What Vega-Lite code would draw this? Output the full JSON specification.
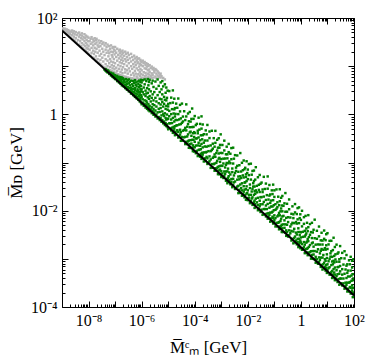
{
"$schema":"https://vega.github.io/schema/vega-lite/v6.json",
"width":292,"height":289,
"autosize":{"type":"none"},
"padding":{"left":62,"top":18,"right":20,"bottom":54},
"background":"white",
"config":{"view":{"stroke":"black","strokeWidth":1},"axis":{"grid":false,"domain":false,"labelFont":"Liberation Serif","labelFontSize":16,"labelColor":"black","titleFont":"Liberation Serif","titleFontSize":17,"titleFontWeight":"normal","titleColor":"black","tickColor":"black","tickWidth":1,"labelOverlap":false,"labelFlush":false,"labelBound":false}},
"datasets":{
"gray":[
{"x":1.1e-9,"y":54},{"x":1.1e-9,"y":61},{"x":1.2e-9,"y":57},{"x":1.3e-9,"y":50},{"x":1.3e-9,"y":60},{"x":1.4e-9,"y":53},{"x":1.5e-9,"y":47},{"x":1.5e-9,"y":58},{"x":1.6e-9,"y":51},{"x":1.7e-9,"y":45},{"x":1.7e-9,"y":56},{"x":1.8e-9,"y":49},{"x":1.9e-9,"y":42},{"x":1.9e-9,"y":54},{"x":2e-9,"y":47},{"x":2.2e-9,"y":39},{"x":2.2e-9,"y":52},{"x":2.4e-9,"y":44},{"x":2.4e-9,"y":55},{"x":2.6e-9,"y":36},{"x":2.6e-9,"y":49},{"x":2.8e-9,"y":41},{"x":2.8e-9,"y":53},{"x":3e-9,"y":34},{"x":3e-9,"y":46},{"x":3.3e-9,"y":38},{"x":3.3e-9,"y":51},{"x":3.6e-9,"y":31},{"x":3.6e-9,"y":44},{"x":4e-9,"y":35},{"x":4e-9,"y":48},{"x":4.4e-9,"y":28},{"x":4.4e-9,"y":41},{"x":4.4e-9,"y":50},{"x":4.8e-9,"y":33},{"x":4.8e-9,"y":45},{"x":5.2e-9,"y":26},{"x":5.2e-9,"y":38},{"x":5.6e-9,"y":30},{"x":5.6e-9,"y":43},{"x":5.6e-9,"y":48},{"x":6e-9,"y":24},{"x":6e-9,"y":36},{"x":6.5e-9,"y":28},{"x":6.5e-9,"y":40},{"x":7e-9,"y":22},{"x":7e-9,"y":33},{"x":7e-9,"y":46},{"x":7.5e-9,"y":26},{"x":7.5e-9,"y":38},{"x":8e-9,"y":21},{"x":8e-9,"y":30},{"x":8e-9,"y":43},{"x":8.5e-9,"y":24},{"x":8.5e-9,"y":35},{"x":9e-9,"y":19.5},{"x":9e-9,"y":28},{"x":9e-9,"y":41},{"x":9.5e-9,"y":23},{"x":9.5e-9,"y":33},
{"x":1e-8,"y":18},{"x":1e-8,"y":26},{"x":1e-8,"y":39},{"x":1.1e-8,"y":22},{"x":1.1e-8,"y":33},{"x":1.2e-8,"y":16.5},{"x":1.2e-8,"y":29},{"x":1.2e-8,"y":37},{"x":1.3e-8,"y":19},{"x":1.3e-8,"y":24},{"x":1.3e-8,"y":40},{"x":1.4e-8,"y":15.2},{"x":1.4e-8,"y":31},{"x":1.5e-8,"y":21},{"x":1.5e-8,"y":27},{"x":1.5e-8,"y":36},{"x":1.6e-8,"y":14.5},{"x":1.6e-8,"y":18},{"x":1.6e-8,"y":33},{"x":1.7e-8,"y":24},{"x":1.7e-8,"y":38},{"x":1.8e-8,"y":13.6},{"x":1.8e-8,"y":20},{"x":1.8e-8,"y":29},{"x":1.9e-8,"y":16},{"x":1.9e-8,"y":35},{"x":2e-8,"y":12.8},{"x":2e-8,"y":23},{"x":2e-8,"y":31},{"x":2e-8,"y":37},{"x":2.2e-8,"y":14},{"x":2.2e-8,"y":19},{"x":2.2e-8,"y":27},{"x":2.4e-8,"y":11.9},{"x":2.4e-8,"y":25},{"x":2.4e-8,"y":34},{"x":2.6e-8,"y":16.5},{"x":2.6e-8,"y":21},{"x":2.6e-8,"y":30},{"x":2.8e-8,"y":11.2},{"x":2.8e-8,"y":13.5},{"x":2.8e-8,"y":26},{"x":3e-8,"y":18},{"x":3e-8,"y":33},{"x":3.3e-8,"y":10.2},{"x":3.3e-8,"y":15},{"x":3.3e-8,"y":23},{"x":3.3e-8,"y":29},{"x":3.6e-8,"y":12.5},{"x":3.6e-8,"y":20},{"x":3.6e-8,"y":31},{"x":4e-8,"y":9.4},{"x":4e-8,"y":17},{"x":4e-8,"y":27},{"x":4.4e-8,"y":11},{"x":4.4e-8,"y":14},{"x":4.4e-8,"y":22},{"x":4.4e-8,"y":30},{"x":4.8e-8,"y":8.8},{"x":4.8e-8,"y":19},{"x":4.8e-8,"y":25},{"x":5.2e-8,"y":10},{"x":5.2e-8,"y":13},{"x":5.2e-8,"y":28},{"x":5.6e-8,"y":8.5},{"x":5.6e-8,"y":16},{"x":5.6e-8,"y":21},{"x":6e-8,"y":11.5},{"x":6e-8,"y":18.5},{"x":6e-8,"y":26},{"x":6.5e-8,"y":8.2},{"x":6.5e-8,"y":9.6},{"x":6.5e-8,"y":14},{"x":6.5e-8,"y":23},{"x":7e-8,"y":12.5},{"x":7e-8,"y":20},{"x":7e-8,"y":27},{"x":7.5e-8,"y":7.8},{"x":7.5e-8,"y":10.5},{"x":7.5e-8,"y":17},{"x":8e-8,"y":9},{"x":8e-8,"y":15.5},{"x":8e-8,"y":24},{"x":8.5e-8,"y":7.6},{"x":8.5e-8,"y":12},{"x":8.5e-8,"y":19.5},{"x":8.5e-8,"y":25},{"x":9e-8,"y":10},{"x":9e-8,"y":14},{"x":9e-8,"y":22},{"x":9.5e-8,"y":7.4},{"x":9.5e-8,"y":8.6},{"x":9.5e-8,"y":17.5},
{"x":1e-7,"y":11.5},{"x":1e-7,"y":21},{"x":1e-7,"y":25},{"x":1.1e-7,"y":7.1},{"x":1.1e-7,"y":9.3},{"x":1.1e-7,"y":15.5},{"x":1.1e-7,"y":19},{"x":1.2e-7,"y":8},{"x":1.2e-7,"y":13},{"x":1.2e-7,"y":23},{"x":1.3e-7,"y":6.8},{"x":1.3e-7,"y":10.5},{"x":1.3e-7,"y":17},{"x":1.4e-7,"y":8.8},{"x":1.4e-7,"y":14.5},{"x":1.4e-7,"y":21},{"x":1.5e-7,"y":6.6},{"x":1.5e-7,"y":12},{"x":1.5e-7,"y":18.5},{"x":1.5e-7,"y":22},{"x":1.6e-7,"y":7.6},{"x":1.6e-7,"y":10},{"x":1.6e-7,"y":16},{"x":1.7e-7,"y":6.4},{"x":1.7e-7,"y":13.5},{"x":1.7e-7,"y":20},{"x":1.8e-7,"y":8.5},{"x":1.8e-7,"y":11.5},{"x":1.8e-7,"y":17.5},{"x":1.9e-7,"y":6.3},{"x":1.9e-7,"y":7.2},{"x":1.9e-7,"y":15},{"x":1.9e-7,"y":21},{"x":2e-7,"y":9.5},{"x":2e-7,"y":13},{"x":2e-7,"y":19},{"x":2.2e-7,"y":6.1},{"x":2.2e-7,"y":11},{"x":2.2e-7,"y":16.5},{"x":2.4e-7,"y":7.4},{"x":2.4e-7,"y":8.6},{"x":2.4e-7,"y":14},{"x":2.4e-7,"y":20},{"x":2.6e-7,"y":6},{"x":2.6e-7,"y":12.5},{"x":2.6e-7,"y":18},{"x":2.8e-7,"y":8.2},{"x":2.8e-7,"y":10.2},{"x":2.8e-7,"y":15.5},{"x":3e-7,"y":5.8},{"x":3e-7,"y":7},{"x":3e-7,"y":13.5},{"x":3e-7,"y":19},{"x":3.3e-7,"y":9},{"x":3.3e-7,"y":11.5},{"x":3.3e-7,"y":17},{"x":3.6e-7,"y":5.7},{"x":3.6e-7,"y":7.8},{"x":3.6e-7,"y":14.5},{"x":4e-7,"y":6.6},{"x":4e-7,"y":10},{"x":4e-7,"y":12.5},{"x":4e-7,"y":18},{"x":4.4e-7,"y":5.6},{"x":4.4e-7,"y":8.8},{"x":4.4e-7,"y":15.5},{"x":4.8e-7,"y":7.2},{"x":4.8e-7,"y":11},{"x":4.8e-7,"y":13.5},{"x":5.2e-7,"y":5.5},{"x":5.2e-7,"y":6.4},{"x":5.2e-7,"y":9.6},{"x":5.2e-7,"y":16.5},{"x":5.6e-7,"y":8},{"x":5.6e-7,"y":12},{"x":5.6e-7,"y":14.5},{"x":6e-7,"y":5.4},{"x":6e-7,"y":7},{"x":6e-7,"y":10.5},{"x":6.5e-7,"y":6.1},{"x":6.5e-7,"y":9},{"x":6.5e-7,"y":13},{"x":6.5e-7,"y":15.5},{"x":7e-7,"y":5.6},{"x":7e-7,"y":11.5},{"x":7e-7,"y":14},{"x":7.5e-7,"y":6.8},{"x":7.5e-7,"y":8.3},{"x":7.5e-7,"y":12},{"x":8e-7,"y":5.3},{"x":8e-7,"y":9.8},{"x":8e-7,"y":14.5},{"x":8.5e-7,"y":6.3},{"x":8.5e-7,"y":7.5},{"x":8.5e-7,"y":11},{"x":9e-7,"y":5.5},{"x":9e-7,"y":8.7},{"x":9e-7,"y":13.5},{"x":9.5e-7,"y":6.9},{"x":9.5e-7,"y":10.5},{"x":9.5e-7,"y":12.5},
{"x":1e-6,"y":5.8},{"x":1e-6,"y":8.2},{"x":1e-6,"y":12},{"x":1.1e-6,"y":6.6},{"x":1.1e-6,"y":10},{"x":1.1e-6,"y":13},{"x":1.2e-6,"y":5.6},{"x":1.2e-6,"y":7.5},{"x":1.2e-6,"y":11.5},{"x":1.3e-6,"y":6.2},{"x":1.3e-6,"y":9},{"x":1.3e-6,"y":12.2},{"x":1.4e-6,"y":5.7},{"x":1.4e-6,"y":7.2},{"x":1.4e-6,"y":10.5},{"x":1.5e-6,"y":6.4},{"x":1.5e-6,"y":8.8},{"x":1.5e-6,"y":11.5},{"x":1.6e-6,"y":5.5},{"x":1.6e-6,"y":9.8},{"x":1.7e-6,"y":7},{"x":1.7e-6,"y":8.2},{"x":1.7e-6,"y":11},{"x":1.8e-6,"y":5.9},{"x":1.8e-6,"y":10.2},{"x":1.9e-6,"y":6.7},{"x":1.9e-6,"y":8.5},{"x":2e-6,"y":5.6},{"x":2e-6,"y":7.6},{"x":2e-6,"y":10.5},{"x":2.2e-6,"y":6.3},{"x":2.2e-6,"y":9.2},{"x":2.4e-6,"y":5.7},{"x":2.4e-6,"y":7.1},{"x":2.4e-6,"y":9.8},{"x":2.6e-6,"y":6.6},{"x":2.6e-6,"y":8.6},{"x":2.8e-6,"y":5.8},{"x":2.8e-6,"y":9.2},{"x":3e-6,"y":7.4},{"x":3e-6,"y":8.1},{"x":3.3e-6,"y":6.1},{"x":3.3e-6,"y":8.7},{"x":3.6e-6,"y":5.6},{"x":3.6e-6,"y":7},{"x":3.6e-6,"y":8.3},{"x":4e-6,"y":6.4},{"x":4e-6,"y":7.8},{"x":4.4e-6,"y":5.9},{"x":4.4e-6,"y":7.3},{"x":4.8e-6,"y":6.5},{"x":5.2e-6,"y":5.8},{"x":5.2e-6,"y":7},{"x":5.6e-6,"y":6.2},{"x":6.5e-6,"y":5.7},{"x":7.5e-6,"y":5.3}
],
"green":[
{"x":4e-8,"y":8.5},{"x":4.4e-8,"y":8},{"x":4.4e-8,"y":8.7},{"x":4.8e-8,"y":7.7},{"x":5.2e-8,"y":7.4},{"x":5.2e-8,"y":8.2},{"x":5.6e-8,"y":7.9},{"x":6e-8,"y":6.9},{"x":6e-8,"y":7.5},{"x":6.5e-8,"y":7.1},{"x":7e-8,"y":6.4},{"x":7e-8,"y":7.3},{"x":7.5e-8,"y":6.7},{"x":8e-8,"y":6},{"x":8e-8,"y":6.9},{"x":8.5e-8,"y":6.3},{"x":8.5e-8,"y":7},{"x":9e-8,"y":5.7},{"x":9e-8,"y":6.6},{"x":9.5e-8,"y":5.9},{"x":9.5e-8,"y":6.3},
{"x":1e-7,"y":5.4},{"x":1e-7,"y":6.5},{"x":1.1e-7,"y":5.6},{"x":1.1e-7,"y":6.1},{"x":1.2e-7,"y":4.9},{"x":1.2e-7,"y":5.5},{"x":1.2e-7,"y":6.3},{"x":1.3e-7,"y":5.2},{"x":1.3e-7,"y":5.8},{"x":1.4e-7,"y":4.6},{"x":1.4e-7,"y":5},{"x":1.4e-7,"y":6},{"x":1.5e-7,"y":4.7},{"x":1.5e-7,"y":5.5},{"x":1.6e-7,"y":4.3},{"x":1.6e-7,"y":5.1},{"x":1.6e-7,"y":5.9},{"x":1.7e-7,"y":4.5},{"x":1.7e-7,"y":4.9},{"x":1.8e-7,"y":4},{"x":1.8e-7,"y":5.3},{"x":1.8e-7,"y":5.8},{"x":1.9e-7,"y":4.2},{"x":1.9e-7,"y":4.6},{"x":2e-7,"y":3.85},{"x":2e-7,"y":4.4},{"x":2e-7,"y":5.6},{"x":2.2e-7,"y":3.8},{"x":2.2e-7,"y":4.9},{"x":2.2e-7,"y":5.3},{"x":2.4e-7,"y":3.5},{"x":2.4e-7,"y":4.1},{"x":2.4e-7,"y":4.6},{"x":2.6e-7,"y":3.6},{"x":2.6e-7,"y":3.9},{"x":2.6e-7,"y":5.4},{"x":2.8e-7,"y":3.25},{"x":2.8e-7,"y":4.3},{"x":2.8e-7,"y":4.8},{"x":3e-7,"y":3.4},{"x":3e-7,"y":3.7},{"x":3e-7,"y":5.1},{"x":3.3e-7,"y":3},{"x":3.3e-7,"y":3.5},{"x":3.3e-7,"y":4.4},{"x":3.3e-7,"y":5.3},{"x":3.6e-7,"y":3.1},{"x":3.6e-7,"y":4},{"x":3.6e-7,"y":4.7},{"x":4e-7,"y":2.7},{"x":4e-7,"y":3.3},{"x":4e-7,"y":3.6},{"x":4e-7,"y":5},{"x":4.4e-7,"y":2.8},{"x":4.4e-7,"y":3},{"x":4.4e-7,"y":4.2},{"x":4.8e-7,"y":2.5},{"x":4.8e-7,"y":3.4},{"x":4.8e-7,"y":3.9},{"x":4.8e-7,"y":4.9},{"x":5.2e-7,"y":2.6},{"x":5.2e-7,"y":2.9},{"x":5.2e-7,"y":4.5},{"x":5.6e-7,"y":2.3},{"x":5.6e-7,"y":3.2},{"x":5.6e-7,"y":3.5},{"x":5.6e-7,"y":5.1},{"x":6e-7,"y":2.4},{"x":6e-7,"y":2.7},{"x":6e-7,"y":4.1},{"x":6e-7,"y":4.6},{"x":6.5e-7,"y":2.15},{"x":6.5e-7,"y":3},{"x":6.5e-7,"y":3.8},{"x":7e-7,"y":2.3},{"x":7e-7,"y":2.6},{"x":7e-7,"y":3.3},{"x":7e-7,"y":4.8},{"x":7.5e-7,"y":2},{"x":7.5e-7,"y":2.9},{"x":7.5e-7,"y":3.1},{"x":7.5e-7,"y":4.3},{"x":8e-7,"y":2.1},{"x":8e-7,"y":2.4},{"x":8e-7,"y":3.7},{"x":8e-7,"y":5},{"x":8.5e-7,"y":1.85},{"x":8.5e-7,"y":2.6},{"x":8.5e-7,"y":2.9},{"x":8.5e-7,"y":4},{"x":9e-7,"y":2},{"x":9e-7,"y":2.2},{"x":9e-7,"y":3.4},{"x":9e-7,"y":4.7},{"x":9.5e-7,"y":1.75},{"x":9.5e-7,"y":2.5},{"x":9.5e-7,"y":3},{"x":9.5e-7,"y":3.9},{"x":9.5e-7,"y":5.2},
{"x":1e-6,"y":1.62},{"x":1e-6,"y":2.3},{"x":1e-6,"y":3.3},{"x":1e-6,"y":4.6},{"x":1.1e-6,"y":1.75},{"x":1.1e-6,"y":2.05},{"x":1.1e-6,"y":2.9},{"x":1.1e-6,"y":5.1},{"x":1.2e-6,"y":1.5},{"x":1.2e-6,"y":2.6},{"x":1.2e-6,"y":3.6},{"x":1.3e-6,"y":1.66},{"x":1.3e-6,"y":1.95},{"x":1.3e-6,"y":4.2},{"x":1.3e-6,"y":5.3},{"x":1.4e-6,"y":1.38},{"x":1.4e-6,"y":2.4},{"x":1.4e-6,"y":3.1},{"x":1.5e-6,"y":1.55},{"x":1.5e-6,"y":1.9},{"x":1.5e-6,"y":2.7},{"x":1.5e-6,"y":4.9},{"x":1.6e-6,"y":1.3},{"x":1.6e-6,"y":1.75},{"x":1.6e-6,"y":3.5},{"x":1.7e-6,"y":1.45},{"x":1.7e-6,"y":2.25},{"x":1.7e-6,"y":2.8},{"x":1.7e-6,"y":5.4},{"x":1.8e-6,"y":1.22},{"x":1.8e-6,"y":1.62},{"x":1.8e-6,"y":4},{"x":1.9e-6,"y":1.34},{"x":1.9e-6,"y":2.1},{"x":1.9e-6,"y":3.3},{"x":1.9e-6,"y":4.7},{"x":2e-6,"y":1.16},{"x":2e-6,"y":1.5},{"x":2e-6,"y":2.4},{"x":2e-6,"y":5.2},{"x":2.2e-6,"y":1.27},{"x":2.2e-6,"y":1.85},{"x":2.2e-6,"y":3},{"x":2.4e-6,"y":1.06},{"x":2.4e-6,"y":1.4},{"x":2.4e-6,"y":2.2},{"x":2.4e-6,"y":4.4},{"x":2.6e-6,"y":1.16},{"x":2.6e-6,"y":1.62},{"x":2.6e-6,"y":2.6},{"x":2.6e-6,"y":5},{"x":2.8e-6,"y":0.98},{"x":2.8e-6,"y":1.3},{"x":2.8e-6,"y":1.95},{"x":2.8e-6,"y":3.7},{"x":3e-6,"y":1.08},{"x":3e-6,"y":1.55},{"x":3e-6,"y":2.9},{"x":3.3e-6,"y":0.9},{"x":3.3e-6,"y":1.2},{"x":3.3e-6,"y":2.2},{"x":3.3e-6,"y":4.8},{"x":3.6e-6,"y":0.99},{"x":3.6e-6,"y":1.45},{"x":3.6e-6,"y":1.85},{"x":3.6e-6,"y":3.4},{"x":4e-6,"y":0.82},{"x":4e-6,"y":1.1},{"x":4e-6,"y":2.5},{"x":4e-6,"y":5.3},{"x":4.4e-6,"y":0.88},{"x":4.4e-6,"y":1.3},{"x":4.4e-6,"y":1.7},{"x":4.4e-6,"y":3.9},{"x":4.8e-6,"y":0.76},{"x":4.8e-6,"y":1.12},{"x":4.8e-6,"y":2.1},{"x":4.8e-6,"y":2.9},{"x":5.2e-6,"y":0.83},{"x":5.2e-6,"y":1.35},{"x":5.2e-6,"y":1.6},{"x":5.2e-6,"y":4.6},{"x":5.6e-6,"y":0.7},{"x":5.6e-6,"y":0.95},{"x":5.6e-6,"y":2.05},{"x":5.6e-6,"y":3.3},{"x":6e-6,"y":0.76},{"x":6e-6,"y":1.15},{"x":6e-6,"y":1.8},{"x":6e-6,"y":2.6},{"x":6e-6,"y":4.9},{"x":6.5e-6,"y":0.65},{"x":6.5e-6,"y":1},{"x":6.5e-6,"y":1.45},{"x":6.5e-6,"y":3.8},{"x":7e-6,"y":0.71},{"x":7e-6,"y":0.92},{"x":7e-6,"y":1.65},{"x":7e-6,"y":2.3},{"x":7.5e-6,"y":0.6},{"x":7.5e-6,"y":1.05},{"x":7.5e-6,"y":2},{"x":7.5e-6,"y":4.2},{"x":8e-6,"y":0.66},{"x":8e-6,"y":0.84},{"x":8e-6,"y":1.3},{"x":8e-6,"y":2.8},{"x":8.5e-6,"y":0.57},{"x":8.5e-6,"y":0.78},{"x":8.5e-6,"y":1.5},{"x":8.5e-6,"y":1.95},{"x":8.5e-6,"y":3.6},{"x":9e-6,"y":0.62},{"x":9e-6,"y":0.99},{"x":9e-6,"y":2.2},{"x":9.5e-6,"y":0.54},{"x":9.5e-6,"y":0.8},{"x":9.5e-6,"y":1.25},{"x":9.5e-6,"y":3.1},
{"x":1e-5,"y":0.49},{"x":1e-5,"y":0.814},{"x":1e-5,"y":1.46},{"x":1e-5,"y":1.65},{"x":1.1e-5,"y":0.65},{"x":1.1e-5,"y":0.917},{"x":1.1e-5,"y":1.18},{"x":1.1e-5,"y":3.04},{"x":1.2e-5,"y":0.507},{"x":1.2e-5,"y":0.653},{"x":1.2e-5,"y":1.71},{"x":1.3e-5,"y":0.463},{"x":1.3e-5,"y":0.781},{"x":1.3e-5,"y":1.01},{"x":1.3e-5,"y":2.22},{"x":1.4e-5,"y":0.529},{"x":1.4e-5,"y":0.659},{"x":1.4e-5,"y":1.28},{"x":1.5e-5,"y":0.413},{"x":1.5e-5,"y":0.844},{"x":1.5e-5,"y":1.75},{"x":1.5e-5,"y":3.14},{"x":1.6e-5,"y":0.461},{"x":1.6e-5,"y":0.548},{"x":1.6e-5,"y":1.04},{"x":1.7e-5,"y":0.506},{"x":1.7e-5,"y":0.709},{"x":1.7e-5,"y":1.27},{"x":1.7e-5,"y":2.11},{"x":1.8e-5,"y":0.369},{"x":1.8e-5,"y":0.566},{"x":1.8e-5,"y":0.902},{"x":1.8e-5,"y":1.35},{"x":1.9e-5,"y":0.435},{"x":1.9e-5,"y":0.766},{"x":1.9e-5,"y":1.02},{"x":2e-5,"y":0.385},{"x":2e-5,"y":0.584},{"x":2e-5,"y":1.67},{"x":2.2e-5,"y":0.467},{"x":2.2e-5,"y":0.594},{"x":2.2e-5,"y":0.761},{"x":2.2e-5,"y":1.37},{"x":2.4e-5,"y":0.33},{"x":2.4e-5,"y":0.433},{"x":2.4e-5,"y":1.01},{"x":2.4e-5,"y":2.13},{"x":2.6e-5,"y":0.355},{"x":2.6e-5,"y":0.614},{"x":2.6e-5,"y":0.784},{"x":2.8e-5,"y":0.38},{"x":2.8e-5,"y":0.479},{"x":2.8e-5,"y":1.15},{"x":2.8e-5,"y":1.57},{"x":3e-5,"y":0.282},{"x":3e-5,"y":0.425},{"x":3e-5,"y":0.628},{"x":3e-5,"y":0.824},{"x":3.3e-5,"y":0.339},{"x":3.3e-5,"y":0.667},{"x":3.3e-5,"y":1.67},{"x":3.6e-5,"y":0.284},{"x":3.6e-5,"y":0.458},{"x":3.6e-5,"y":0.711},{"x":3.6e-5,"y":0.899},{"x":4e-5,"y":0.333},{"x":4e-5,"y":0.473},{"x":4e-5,"y":1.16},{"x":4.4e-5,"y":0.241},{"x":4.4e-5,"y":0.341},{"x":4.4e-5,"y":0.524},{"x":4.4e-5,"y":0.76},{"x":4.8e-5,"y":0.269},{"x":4.8e-5,"y":0.464},{"x":4.8e-5,"y":0.904},{"x":4.8e-5,"y":1.61},{"x":5.2e-5,"y":0.241},{"x":5.2e-5,"y":0.347},{"x":5.2e-5,"y":0.554},{"x":5.6e-5,"y":0.274},{"x":5.6e-5,"y":0.383},{"x":5.6e-5,"y":0.626},{"x":5.6e-5,"y":1.04},{"x":6e-5,"y":0.202},{"x":6e-5,"y":0.287},{"x":6e-5,"y":0.717},{"x":6.5e-5,"y":0.24},{"x":6.5e-5,"y":0.421},{"x":6.5e-5,"y":0.54},{"x":6.5e-5,"y":1.12},{"x":7e-5,"y":0.2},{"x":7e-5,"y":0.291},{"x":7e-5,"y":0.437},{"x":7e-5,"y":0.707},{"x":7.5e-5,"y":0.247},{"x":7.5e-5,"y":0.358},{"x":7.5e-5,"y":0.804},{"x":8e-5,"y":0.198},{"x":8e-5,"y":0.295},{"x":8e-5,"y":0.543},{"x":8e-5,"y":1.32},{"x":8.5e-5,"y":0.172},{"x":8.5e-5,"y":0.227},{"x":8.5e-5,"y":0.406},{"x":9e-5,"y":0.207},{"x":9e-5,"y":0.296},{"x":9e-5,"y":0.549},{"x":9e-5,"y":0.805},{"x":9.5e-5,"y":0.169},{"x":9.5e-5,"y":0.338},{"x":9.5e-5,"y":0.427},
{"x":1e-4,"y":0.207},{"x":1e-4,"y":0.269},{"x":1e-4,"y":0.408},{"x":1e-4,"y":0.921},{"x":1.1e-4,"y":0.156},{"x":1.1e-4,"y":0.225},{"x":1.1e-4,"y":0.315},{"x":1.1e-4,"y":0.597},{"x":1.2e-4,"y":0.175},{"x":1.2e-4,"y":0.317},{"x":1.2e-4,"y":0.635},{"x":1.3e-4,"y":0.136},{"x":1.3e-4,"y":0.226},{"x":1.3e-4,"y":0.404},{"x":1.3e-4,"y":0.457},{"x":1.4e-4,"y":0.182},{"x":1.4e-4,"y":0.257},{"x":1.4e-4,"y":0.331},{"x":1.4e-4,"y":0.852},{"x":1.5e-4,"y":0.143},{"x":1.5e-4,"y":0.184},{"x":1.5e-4,"y":0.482},{"x":1.6e-4,"y":0.132},{"x":1.6e-4,"y":0.223},{"x":1.6e-4,"y":0.289},{"x":1.6e-4,"y":0.632},{"x":1.7e-4,"y":0.152},{"x":1.7e-4,"y":0.189},{"x":1.7e-4,"y":0.367},{"x":1.8e-4,"y":0.119},{"x":1.8e-4,"y":0.243},{"x":1.8e-4,"y":0.505},{"x":1.8e-4,"y":0.907},{"x":1.9e-4,"y":0.134},{"x":1.9e-4,"y":0.159},{"x":1.9e-4,"y":0.303},{"x":2e-4,"y":0.147},{"x":2e-4,"y":0.206},{"x":2e-4,"y":0.369},{"x":2e-4,"y":0.615},{"x":2.2e-4,"y":0.105},{"x":2.2e-4,"y":0.162},{"x":2.2e-4,"y":0.258},{"x":2.2e-4,"y":0.387},{"x":2.4e-4,"y":0.122},{"x":2.4e-4,"y":0.215},{"x":2.4e-4,"y":0.286},{"x":2.6e-4,"y":0.107},{"x":2.6e-4,"y":0.162},{"x":2.6e-4,"y":0.464},{"x":2.8e-4,"y":0.131},{"x":2.8e-4,"y":0.166},{"x":2.8e-4,"y":0.213},{"x":2.8e-4,"y":0.384},{"x":3e-4,"y":0.0933},{"x":3e-4,"y":0.122},{"x":3e-4,"y":0.286},{"x":3e-4,"y":0.602},{"x":3.3e-4,"y":0.0995},{"x":3.3e-4,"y":0.172},{"x":3.3e-4,"y":0.22},{"x":3.6e-4,"y":0.106},{"x":3.6e-4,"y":0.134},{"x":3.6e-4,"y":0.321},{"x":3.6e-4,"y":0.44},{"x":4e-4,"y":0.0773},{"x":4e-4,"y":0.116},{"x":4e-4,"y":0.172},{"x":4e-4,"y":0.226},{"x":4.4e-4,"y":0.0928},{"x":4.4e-4,"y":0.182},{"x":4.4e-4,"y":0.456},{"x":4.8e-4,"y":0.0777},{"x":4.8e-4,"y":0.125},{"x":4.8e-4,"y":0.194},{"x":4.8e-4,"y":0.246},{"x":5.2e-4,"y":0.0922},{"x":5.2e-4,"y":0.131},{"x":5.2e-4,"y":0.32},{"x":5.6e-4,"y":0.0675},{"x":5.6e-4,"y":0.0954},{"x":5.6e-4,"y":0.147},{"x":5.6e-4,"y":0.213},{"x":6e-4,"y":0.076},{"x":6e-4,"y":0.131},{"x":6e-4,"y":0.256},{"x":6e-4,"y":0.454},{"x":6.5e-4,"y":0.0682},{"x":6.5e-4,"y":0.0982},{"x":6.5e-4,"y":0.157},{"x":7e-4,"y":0.0775},{"x":7e-4,"y":0.108},{"x":7e-4,"y":0.177},{"x":7e-4,"y":0.296},{"x":7.5e-4,"y":0.0572},{"x":7.5e-4,"y":0.0813},{"x":7.5e-4,"y":0.203},{"x":8e-4,"y":0.0682},{"x":8e-4,"y":0.12},{"x":8e-4,"y":0.154},{"x":8e-4,"y":0.319},{"x":8.5e-4,"y":0.0572},{"x":8.5e-4,"y":0.0834},{"x":8.5e-4,"y":0.125},{"x":8.5e-4,"y":0.203},{"x":9e-4,"y":0.0712},{"x":9e-4,"y":0.103},{"x":9e-4,"y":0.232},{"x":9.5e-4,"y":0.0575},{"x":9.5e-4,"y":0.0857},{"x":9.5e-4,"y":0.158},{"x":9.5e-4,"y":0.384},
{"x":1e-3,"y":0.05},{"x":1e-3,"y":0.066},{"x":1e-3,"y":0.118},{"x":1.1e-3,"y":0.0592},{"x":1.1e-3,"y":0.0849},{"x":1.1e-3,"y":0.157},{"x":1.1e-3,"y":0.231},{"x":1.2e-3,"y":0.0477},{"x":1.2e-3,"y":0.0954},{"x":1.2e-3,"y":0.12},{"x":1.3e-3,"y":0.0521},{"x":1.3e-3,"y":0.0651},{"x":1.3e-3,"y":0.178},{"x":1.3e-3,"y":0.284},{"x":1.4e-3,"y":0.058},{"x":1.4e-3,"y":0.0789},{"x":1.4e-3,"y":0.121},{"x":1.5e-3,"y":0.0418},{"x":1.5e-3,"y":0.0651},{"x":1.5e-3,"y":0.0898},{"x":1.5e-3,"y":0.148},{"x":1.6e-3,"y":0.0457},{"x":1.6e-3,"y":0.0979},{"x":1.6e-3,"y":0.213},{"x":1.7e-3,"y":0.0371},{"x":1.7e-3,"y":0.0654},{"x":1.7e-3,"y":0.122},{"x":1.7e-3,"y":0.148},{"x":1.8e-3,"y":0.048},{"x":1.8e-3,"y":0.0746},{"x":1.8e-3,"y":0.0964},{"x":1.9e-3,"y":0.0399},{"x":1.9e-3,"y":0.0519},{"x":1.9e-3,"y":0.164},{"x":1.9e-3,"y":0.243},{"x":2e-3,"y":0.0428},{"x":2e-3,"y":0.0622},{"x":2e-3,"y":0.105},{"x":2.2e-3,"y":0.0352},{"x":2.2e-3,"y":0.0564},{"x":2.2e-3,"y":0.0965},{"x":2.2e-3,"y":0.152},{"x":2.4e-3,"y":0.0398},{"x":2.4e-3,"y":0.0454},{"x":2.4e-3,"y":0.117},{"x":2.4e-3,"y":0.199},{"x":2.6e-3,"y":0.0307},{"x":2.6e-3,"y":0.0631},{"x":2.6e-3,"y":0.075},{"x":2.8e-3,"y":0.0344},{"x":2.8e-3,"y":0.0459},{"x":2.8e-3,"y":0.0951},{"x":2.8e-3,"y":0.203},{"x":3e-3,"y":0.0387},{"x":3e-3,"y":0.0539},{"x":3e-3,"y":0.12},{"x":3.3e-3,"y":0.0282},{"x":3.3e-3,"y":0.0403},{"x":3.3e-3,"y":0.0606},{"x":3.3e-3,"y":0.142},{"x":3.6e-3,"y":0.029},{"x":3.6e-3,"y":0.0667},{"x":3.6e-3,"y":0.0783},{"x":4e-3,"y":0.0316},{"x":4e-3,"y":0.044},{"x":4e-3,"y":0.0853},{"x":4e-3,"y":0.14},{"x":4.4e-3,"y":0.0231},{"x":4.4e-3,"y":0.0328},{"x":4.4e-3,"y":0.0511},{"x":4.4e-3,"y":0.0642},{"x":4.8e-3,"y":0.0271},{"x":4.8e-3,"y":0.0447},{"x":4.8e-3,"y":0.0879},{"x":5.2e-3,"y":0.0234},{"x":5.2e-3,"y":0.0349},{"x":5.2e-3,"y":0.0518},{"x":5.2e-3,"y":0.157},{"x":5.6e-3,"y":0.0295},{"x":5.6e-3,"y":0.0476},{"x":5.6e-3,"y":0.065},{"x":6e-3,"y":0.0204},{"x":6e-3,"y":0.0264},{"x":6e-3,"y":0.037},{"x":6e-3,"y":0.0986},{"x":6.5e-3,"y":0.0222},{"x":6.5e-3,"y":0.054},{"x":6.5e-3,"y":0.0691},{"x":7e-3,"y":0.0248},{"x":7e-3,"y":0.0322},{"x":7e-3,"y":0.0489},{"x":7e-3,"y":0.11},{"x":7.5e-3,"y":0.0189},{"x":7.5e-3,"y":0.0273},{"x":7.5e-3,"y":0.0382},{"x":7.5e-3,"y":0.0724},{"x":8e-3,"y":0.0213},{"x":8e-3,"y":0.0388},{"x":8e-3,"y":0.0776},{"x":8.5e-3,"y":0.0168},{"x":8.5e-3,"y":0.028},{"x":8.5e-3,"y":0.0501},{"x":8.5e-3,"y":0.0567},{"x":9e-3,"y":0.0227},{"x":9e-3,"y":0.032},{"x":9e-3,"y":0.0412},{"x":9e-3,"y":0.106},{"x":9.5e-3,"y":0.018},{"x":9.5e-3,"y":0.0231},{"x":9.5e-3,"y":0.0605},
{"x":0.01,"y":0.0165},{"x":0.01,"y":0.0264},{"x":0.01,"y":0.0452},{"x":0.01,"y":0.0713},{"x":0.011,"y":0.0186},{"x":0.011,"y":0.0212},{"x":0.011,"y":0.0547},{"x":0.011,"y":0.0928},{"x":0.012,"y":0.0143},{"x":0.012,"y":0.0294},{"x":0.012,"y":0.0349},{"x":0.013,"y":0.016},{"x":0.013,"y":0.0213},{"x":0.013,"y":0.0442},{"x":0.013,"y":0.0945},{"x":0.014,"y":0.0179},{"x":0.014,"y":0.025},{"x":0.014,"y":0.0558},{"x":0.015,"y":0.0132},{"x":0.015,"y":0.0189},{"x":0.015,"y":0.0284},{"x":0.015,"y":0.0667},{"x":0.016,"y":0.0137},{"x":0.016,"y":0.0316},{"x":0.016,"y":0.0371},{"x":0.017,"y":0.0153},{"x":0.017,"y":0.0213},{"x":0.017,"y":0.0413},{"x":0.017,"y":0.068},{"x":0.018,"y":0.0114},{"x":0.018,"y":0.0162},{"x":0.018,"y":0.0253},{"x":0.018,"y":0.0317},{"x":0.019,"y":0.0136},{"x":0.019,"y":0.0224},{"x":0.019,"y":0.0441},{"x":0.02,"y":0.0119},{"x":0.02,"y":0.0178},{"x":0.02,"y":0.0264},{"x":0.02,"y":0.0799},{"x":0.022,"y":0.0149},{"x":0.022,"y":0.024},{"x":0.022,"y":0.0328},{"x":0.024,"y":0.0102},{"x":0.024,"y":0.0132},{"x":0.024,"y":0.0185},{"x":0.024,"y":0.0494},{"x":0.026,"y":0.0111},{"x":0.026,"y":0.027},{"x":0.026,"y":0.0345},{"x":0.028,"y":0.0124},{"x":0.028,"y":0.0161},{"x":0.028,"y":0.0244},{"x":0.028,"y":0.0551},{"x":0.03,"y":0.0094},{"x":0.03,"y":0.0136},{"x":0.03,"y":0.0191},{"x":0.03,"y":0.0361},{"x":0.033,"y":0.0105},{"x":0.033,"y":0.0191},{"x":0.033,"y":0.0383},{"x":0.036,"y":0.0082},{"x":0.036,"y":0.0136},{"x":0.036,"y":0.0243},{"x":0.036,"y":0.0275},{"x":0.04,"y":0.0108},{"x":0.04,"y":0.0152},{"x":0.04,"y":0.0196},{"x":0.04,"y":0.0504},{"x":0.044,"y":0.0084},{"x":0.044,"y":0.0108},{"x":0.044,"y":0.0282},{"x":0.048,"y":0.0076},{"x":0.048,"y":0.0128},{"x":0.048,"y":0.0167},{"x":0.048,"y":0.0365},{"x":0.052,"y":0.0087},{"x":0.052,"y":0.0108},{"x":0.052,"y":0.021},{"x":0.056,"y":0.0068},{"x":0.056,"y":0.0138},{"x":0.056,"y":0.0286},{"x":0.056,"y":0.0514},{"x":0.06,"y":0.0075},{"x":0.06,"y":0.0089},{"x":0.06,"y":0.017},{"x":0.065,"y":0.0082},{"x":0.065,"y":0.0115},{"x":0.065,"y":0.0205},{"x":0.065,"y":0.0341},{"x":0.07,"y":0.0059},{"x":0.07,"y":0.0091},{"x":0.07,"y":0.0145},{"x":0.07,"y":0.0217},{"x":0.075,"y":0.0069},{"x":0.075,"y":0.0122},{"x":0.075,"y":0.0162},{"x":0.08,"y":0.0061},{"x":0.08,"y":0.0092},{"x":0.08,"y":0.0264},{"x":0.085,"y":0.0075},{"x":0.085,"y":0.0095},{"x":0.085,"y":0.0122},{"x":0.085,"y":0.0221},{"x":0.09,"y":0.0054},{"x":0.09,"y":0.0071},{"x":0.09,"y":0.0165},{"x":0.09,"y":0.0347},{"x":0.095,"y":0.0059},{"x":0.095,"y":0.0102},{"x":0.095,"y":0.013},
{"x":0.1,"y":0.0064},{"x":0.1,"y":0.008},{"x":0.1,"y":0.0193},{"x":0.1,"y":0.0264},{"x":0.11,"y":0.0047},{"x":0.11,"y":0.007},{"x":0.11,"y":0.0104},{"x":0.11,"y":0.0136},{"x":0.12,"y":0.0056},{"x":0.12,"y":0.011},{"x":0.12,"y":0.0276},{"x":0.13,"y":0.0047},{"x":0.13,"y":0.0076},{"x":0.13,"y":0.0118},{"x":0.13,"y":0.0149},{"x":0.14,"y":0.0056},{"x":0.14,"y":0.008},{"x":0.14,"y":0.0195},{"x":0.15,"y":0.0041},{"x":0.15,"y":0.0058},{"x":0.15,"y":0.009},{"x":0.15,"y":0.013},{"x":0.16,"y":0.0047},{"x":0.16,"y":0.008},{"x":0.16,"y":0.0157},{"x":0.16,"y":0.0278},{"x":0.17,"y":0.0042},{"x":0.17,"y":0.0061},{"x":0.17,"y":0.0097},{"x":0.18,"y":0.0048},{"x":0.18,"y":0.0068},{"x":0.18,"y":0.0111},{"x":0.18,"y":0.0185},{"x":0.19,"y":0.0036},{"x":0.19,"y":0.0051},{"x":0.19,"y":0.0128},{"x":0.2,"y":0.0043},{"x":0.2,"y":0.0076},{"x":0.2,"y":0.0097},{"x":0.2,"y":0.0202},{"x":0.22,"y":0.0036},{"x":0.22,"y":0.0052},{"x":0.22,"y":0.0078},{"x":0.22,"y":0.0126},{"x":0.24,"y":0.0044},{"x":0.24,"y":0.0063},{"x":0.24,"y":0.0142},{"x":0.26,"y":0.0035},{"x":0.26,"y":0.0052},{"x":0.26,"y":0.0095},{"x":0.26,"y":0.0232},{"x":0.28,"y":0.003},{"x":0.28,"y":0.0039},{"x":0.28,"y":0.0071},{"x":0.3,"y":0.0036},{"x":0.3,"y":0.0051},{"x":0.3,"y":0.0095},{"x":0.3,"y":0.0139},{"x":0.33,"y":0.0029},{"x":0.33,"y":0.0058},{"x":0.33,"y":0.0073},{"x":0.36,"y":0.0031},{"x":0.36,"y":0.0039},{"x":0.36,"y":0.0107},{"x":0.36,"y":0.0171},{"x":0.4,"y":0.0034},{"x":0.4,"y":0.0047},{"x":0.4,"y":0.0072},{"x":0.44,"y":0.0024},{"x":0.44,"y":0.0038},{"x":0.44,"y":0.0052},{"x":0.44,"y":0.0086},{"x":0.48,"y":0.0026},{"x":0.48,"y":0.0056},{"x":0.48,"y":0.0123},{"x":0.52,"y":0.0021},{"x":0.52,"y":0.0037},{"x":0.52,"y":0.007},{"x":0.52,"y":0.0084},{"x":0.56,"y":0.0027},{"x":0.56,"y":0.0042},{"x":0.56,"y":0.0055},{"x":0.6,"y":0.0022},{"x":0.6,"y":0.0029},{"x":0.6,"y":0.0092},{"x":0.6,"y":0.0137},{"x":0.65,"y":0.0024},{"x":0.65,"y":0.0035},{"x":0.65,"y":0.0058},{"x":0.7,"y":0.002},{"x":0.7,"y":0.0032},{"x":0.7,"y":0.0054},{"x":0.7,"y":0.0085},{"x":0.75,"y":0.00225},{"x":0.75,"y":0.0026},{"x":0.75,"y":0.0066},{"x":0.75,"y":0.0113},{"x":0.8,"y":0.00175},{"x":0.8,"y":0.0036},{"x":0.8,"y":0.0043},{"x":0.85,"y":0.002},{"x":0.85,"y":0.0026},{"x":0.85,"y":0.0055},{"x":0.85,"y":0.0117},{"x":0.9,"y":0.0022},{"x":0.9,"y":0.0031},{"x":0.9,"y":0.007},{"x":0.95,"y":0.00166},{"x":0.95,"y":0.0024},{"x":0.95,"y":0.0036},{"x":0.95,"y":0.0084},
{"x":1,"y":0.00219},{"x":1,"y":0.00278},{"x":1,"y":0.00356},{"x":1,"y":0.00643},{"x":1.1,"y":0.00154},{"x":1.1,"y":0.00202},{"x":1.1,"y":0.00472},{"x":1.1,"y":0.00994},{"x":1.2,"y":0.00165},{"x":1.2,"y":0.00286},{"x":1.2,"y":0.00365},{"x":1.3,"y":0.00177},{"x":1.3,"y":0.00223},{"x":1.3,"y":0.00533},{"x":1.3,"y":0.00732},{"x":1.4,"y":0.00131},{"x":1.4,"y":0.00197},{"x":1.4,"y":0.00291},{"x":1.4,"y":0.00382},{"x":1.5,"y":0.00159},{"x":1.5,"y":0.00312},{"x":1.5,"y":0.0078},{"x":1.6,"y":0.00135},{"x":1.6,"y":0.00217},{"x":1.6,"y":0.00337},{"x":1.6,"y":0.00426},{"x":1.7,"y":0.00161},{"x":1.7,"y":0.00229},{"x":1.7,"y":0.0056},{"x":1.8,"y":0.00119},{"x":1.8,"y":0.00168},{"x":1.8,"y":0.00259},{"x":1.8,"y":0.00376},{"x":1.9,"y":0.00135},{"x":1.9,"y":0.00233},{"x":1.9,"y":0.00454},{"x":1.9,"y":0.00807},{"x":2,"y":0.00123},{"x":2,"y":0.00177},{"x":2,"y":0.00283},{"x":2.2,"y":0.00138},{"x":2.2,"y":0.00193},{"x":2.2,"y":0.00316},{"x":2.2,"y":0.00527},{"x":2.4,"y":0.00101},{"x":2.4,"y":0.00144},{"x":2.4,"y":0.00359},{"x":2.6,"y":0.0012},{"x":2.6,"y":0.0021},{"x":2.6,"y":0.0027},{"x":2.6,"y":0.0056},{"x":2.8,"y":0.001},{"x":2.8,"y":0.00145},{"x":2.8,"y":0.00218},{"x":2.8,"y":0.00353},{"x":3,"y":0.00123},{"x":3,"y":0.00179},{"x":3,"y":0.00401},{"x":3.3,"y":0.00098},{"x":3.3,"y":0.00145},{"x":3.3,"y":0.00268},{"x":3.3,"y":0.0065},{"x":3.6,"y":0.00083},{"x":3.6,"y":0.0011},{"x":3.6,"y":0.00197},{"x":4,"y":0.00098},{"x":4,"y":0.00141},{"x":4,"y":0.00261},{"x":4,"y":0.00382},{"x":4.4,"y":0.00079},{"x":4.4,"y":0.00158},{"x":4.4,"y":0.00199},{"x":4.8,"y":0.00086},{"x":4.8,"y":0.00107},{"x":4.8,"y":0.00293},{"x":4.8,"y":0.00468},{"x":5.2,"y":0.00095},{"x":5.2,"y":0.0013},{"x":5.2,"y":0.00198},{"x":5.6,"y":0.00068},{"x":5.6,"y":0.00106},{"x":5.6,"y":0.00147},{"x":5.6,"y":0.00242},{"x":6,"y":0.00075},{"x":6,"y":0.0016},{"x":6,"y":0.00348},{"x":6.5,"y":0.0006},{"x":6.5,"y":0.00106},{"x":6.5,"y":0.00198},{"x":6.5,"y":0.00239},{"x":7,"y":0.00077},{"x":7,"y":0.0012},{"x":7,"y":0.00154},{"x":7.5,"y":0.00064},{"x":7.5,"y":0.00083},{"x":7.5,"y":0.0026},{"x":7.5,"y":0.00387},{"x":8,"y":0.00068},{"x":8,"y":0.00098},{"x":8,"y":0.00166},{"x":8.5,"y":0.00057},{"x":8.5,"y":0.00091},{"x":8.5,"y":0.00155},{"x":8.5,"y":0.00244},{"x":9,"y":0.00065},{"x":9,"y":0.00074},{"x":9,"y":0.00191},{"x":9,"y":0.00324},{"x":9.5,"y":0.00051},{"x":9.5,"y":0.00104},{"x":9.5,"y":0.00124},
{"x":10,"y":0.00058},{"x":10,"y":0.00077},{"x":10,"y":0.0016},{"x":10,"y":0.00341},{"x":11,"y":0.00064},{"x":11,"y":0.00089},{"x":11,"y":0.00199},{"x":12,"y":0.00047},{"x":12,"y":0.00067},{"x":12,"y":0.001},{"x":12,"y":0.00236},{"x":13,"y":0.00048},{"x":13,"y":0.00111},{"x":13,"y":0.0013},{"x":14,"y":0.00053},{"x":14,"y":0.00074},{"x":14,"y":0.00144},{"x":14,"y":0.00237},{"x":15,"y":0.0004},{"x":15,"y":0.00056},{"x":15,"y":0.00088},{"x":15,"y":0.0011},{"x":16,"y":0.00047},{"x":16,"y":0.00077},{"x":16,"y":0.00152},{"x":17,"y":0.00041},{"x":17,"y":0.00061},{"x":17,"y":0.00091},{"x":17,"y":0.00274},{"x":18,"y":0.00052},{"x":18,"y":0.00084},{"x":18,"y":0.00115},{"x":19,"y":0.00036},{"x":19,"y":0.00047},{"x":19,"y":0.00066},{"x":19,"y":0.00176},{"x":20,"y":0.0004},{"x":20,"y":0.00097},{"x":20,"y":0.00124},{"x":22,"y":0.00044},{"x":22,"y":0.00058},{"x":22,"y":0.00087},{"x":22,"y":0.00197},{"x":24,"y":0.00033},{"x":24,"y":0.00048},{"x":24,"y":0.00067},{"x":24,"y":0.00128},{"x":26,"y":0.00038},{"x":26,"y":0.00068},{"x":26,"y":0.00136},{"x":28,"y":0.00029},{"x":28,"y":0.00049},{"x":28,"y":0.00087},{"x":28,"y":0.00098},{"x":30,"y":0.00039},{"x":30,"y":0.00055},{"x":30,"y":0.00071},{"x":30,"y":0.00184},{"x":33,"y":0.00031},{"x":33,"y":0.00039},{"x":33,"y":0.00103},{"x":36,"y":0.00028},{"x":36,"y":0.00047},{"x":36,"y":0.00061},{"x":36,"y":0.00133},{"x":40,"y":0.00031},{"x":40,"y":0.00039},{"x":40,"y":0.00076},{"x":44,"y":0.00024},{"x":44,"y":0.00049},{"x":44,"y":0.00102},{"x":44,"y":0.00144},{"x":48,"y":0.00027},{"x":48,"y":0.00032},{"x":48,"y":0.0006},{"x":52,"y":0.00029},{"x":52,"y":0.0004},{"x":52,"y":0.00072},{"x":52,"y":0.0012},{"x":56,"y":0.00021},{"x":56,"y":0.00032},{"x":56,"y":0.00051},{"x":56,"y":0.00077},{"x":60,"y":0.00024},{"x":60,"y":0.00043},{"x":60,"y":0.00057},{"x":65,"y":0.00021},{"x":65,"y":0.00032},{"x":65,"y":0.00093},{"x":70,"y":0.00026},{"x":70,"y":0.00033},{"x":70,"y":0.00043},{"x":70,"y":0.00077},{"x":75,"y":0.00019},{"x":75,"y":0.00025},{"x":75,"y":0.00057},{"x":75,"y":0.0011},{"x":80,"y":0.0002},{"x":80,"y":0.00035},{"x":80,"y":0.00045},{"x":85,"y":0.00022},{"x":85,"y":0.00028},{"x":85,"y":0.00066},{"x":85,"y":0.00091},{"x":90,"y":0.00016},{"x":90,"y":0.00025},{"x":90,"y":0.00036},{"x":90,"y":0.00048},{"x":95,"y":0.0002},{"x":95,"y":0.00039},{"x":95,"y":0.00098}
],
"line":[{"x":1e-9,"y":55},{"x":100,"y":0.000174}]
},
"layer":[
{"data":{"name":"gray"},"mark":{"type":"square","size":6,"color":"#b4b4b4","opacity":1,"clip":true},
"encoding":{
"x":{"field":"x","type":"quantitative","scale":{"type":"log","domain":[1e-9,100],"nice":false},
"axis":{"orient":"bottom","title":"M̅ᶜₘ [GeV]","titlePadding":8,"labelPadding":11,
"values":[1e-9,2e-9,3e-9,4e-9,5e-9,6e-9,7e-9,8e-9,9e-9,1e-8,2e-8,3e-8,4e-8,5e-8,6e-8,7e-8,8e-8,9e-8,1e-7,2e-7,3e-7,4e-7,5e-7,6e-7,7e-7,8e-7,9e-7,1e-6,2e-6,3e-6,4e-6,5e-6,6e-6,7e-6,8e-6,9e-6,1e-5,2e-5,3e-5,4e-5,5e-5,6e-5,7e-5,8e-5,9e-5,1e-4,2e-4,3e-4,4e-4,5e-4,6e-4,7e-4,8e-4,9e-4,1e-3,2e-3,3e-3,4e-3,5e-3,6e-3,7e-3,8e-3,9e-3,0.01,0.02,0.03,0.04,0.05,0.06,0.07,0.08,0.09,0.1,0.2,0.3,0.4,0.5,0.6,0.7,0.8,0.9,1,2,3,4,5,6,7,8,9,10,20,30,40,50,60,70,80,90,100],
"tickSize":{"condition":{"test":"abs(log(datum.value)/LN10 - round(log(datum.value)/LN10)) < 0.01","value":-6},"value":-3},
"labelExpr":"abs(log(datum.value)/LN10 - round(log(datum.value)/LN10)) > 0.01 ? '' : round(log(datum.value)/LN10) == 0 ? '1' : round(log(datum.value)/LN10) == 2 ? '10²' : round(log(datum.value)/LN10) == -2 ? '10⁻²' : round(log(datum.value)/LN10) == -4 ? '10⁻⁴' : round(log(datum.value)/LN10) == -6 ? '10⁻⁶' : round(log(datum.value)/LN10) == -8 ? '10⁻⁸' : ''"}},
"y":{"field":"y","type":"quantitative","scale":{"type":"log","domain":[1e-4,100],"nice":false},
"axis":{"orient":"left","title":"M̅ᴅ [GeV]","titlePadding":5,"labelPadding":11,
"values":[1e-4,2e-4,3e-4,4e-4,5e-4,6e-4,7e-4,8e-4,9e-4,1e-3,2e-3,3e-3,4e-3,5e-3,6e-3,7e-3,8e-3,9e-3,0.01,0.02,0.03,0.04,0.05,0.06,0.07,0.08,0.09,0.1,0.2,0.3,0.4,0.5,0.6,0.7,0.8,0.9,1,2,3,4,5,6,7,8,9,10,20,30,40,50,60,70,80,90,100],
"tickSize":{"condition":{"test":"abs(log(datum.value)/LN10 - round(log(datum.value)/LN10)) < 0.01","value":-6},"value":-3},
"labelExpr":"abs(log(datum.value)/LN10 - round(log(datum.value)/LN10)) > 0.01 ? '' : round(log(datum.value)/LN10) == 0 ? '1' : round(log(datum.value)/LN10) == 2 ? '10²' : round(log(datum.value)/LN10) == -2 ? '10⁻²' : round(log(datum.value)/LN10) == -4 ? '10⁻⁴' : ''"}}}},
{"data":{"name":"green"},"mark":{"type":"square","size":6,"color":"#008000","opacity":1,"clip":true},
"encoding":{
"x":{"field":"x","type":"quantitative","axis":{"orient":"top","title":null,"labels":false,
"values":[1e-9,2e-9,3e-9,4e-9,5e-9,6e-9,7e-9,8e-9,9e-9,1e-8,2e-8,3e-8,4e-8,5e-8,6e-8,7e-8,8e-8,9e-8,1e-7,2e-7,3e-7,4e-7,5e-7,6e-7,7e-7,8e-7,9e-7,1e-6,2e-6,3e-6,4e-6,5e-6,6e-6,7e-6,8e-6,9e-6,1e-5,2e-5,3e-5,4e-5,5e-5,6e-5,7e-5,8e-5,9e-5,1e-4,2e-4,3e-4,4e-4,5e-4,6e-4,7e-4,8e-4,9e-4,1e-3,2e-3,3e-3,4e-3,5e-3,6e-3,7e-3,8e-3,9e-3,0.01,0.02,0.03,0.04,0.05,0.06,0.07,0.08,0.09,0.1,0.2,0.3,0.4,0.5,0.6,0.7,0.8,0.9,1,2,3,4,5,6,7,8,9,10,20,30,40,50,60,70,80,90,100],
"tickSize":{"condition":{"test":"abs(log(datum.value)/LN10 - round(log(datum.value)/LN10)) < 0.01","value":-6},"value":-3}}},
"y":{"field":"y","type":"quantitative","axis":{"orient":"right","title":null,"labels":false,
"values":[1e-4,2e-4,3e-4,4e-4,5e-4,6e-4,7e-4,8e-4,9e-4,1e-3,2e-3,3e-3,4e-3,5e-3,6e-3,7e-3,8e-3,9e-3,0.01,0.02,0.03,0.04,0.05,0.06,0.07,0.08,0.09,0.1,0.2,0.3,0.4,0.5,0.6,0.7,0.8,0.9,1,2,3,4,5,6,7,8,9,10,20,30,40,50,60,70,80,90,100],
"tickSize":{"condition":{"test":"abs(log(datum.value)/LN10 - round(log(datum.value)/LN10)) < 0.01","value":-6},"value":-3}}}}},
{"data":{"name":"line"},"mark":{"type":"line","color":"black","strokeWidth":2,"clip":true},
"encoding":{"x":{"field":"x","type":"quantitative","axis":null},"y":{"field":"y","type":"quantitative","axis":null}}}
],
"resolve":{"axis":{"x":"independent","y":"independent"}}
}
